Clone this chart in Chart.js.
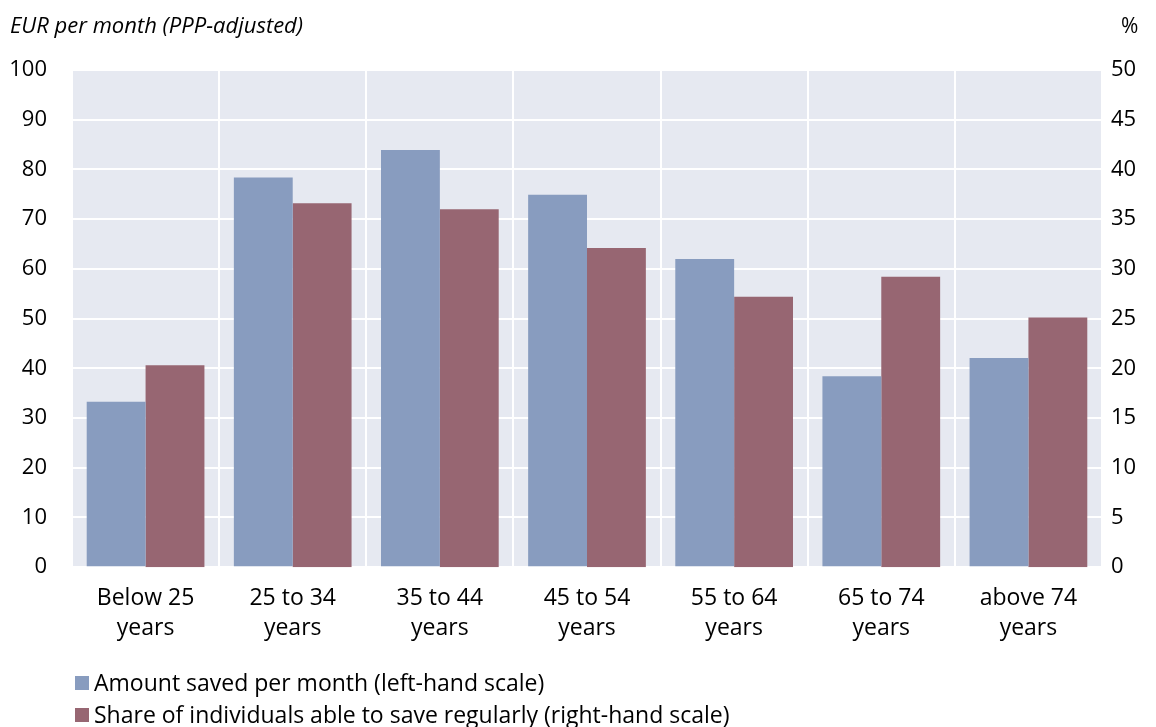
<!DOCTYPE html>
<html>
<head>
<meta charset="utf-8">
<script src="https://cdn.jsdelivr.net/npm/chart.js@4/dist/chart.umd.min.js"></script>
<style>
  html, body { margin: 0; padding: 0; background: #ffffff; }
  #wrap { width: 1156px; height: 727px; position: relative; }
</style>
</head>
<body>
<div id="wrap"><canvas id="c" width="1156" height="727"></canvas></div>
<script>
// Age groups (two-line labels)
const categories = [
  ['Below 25', 'years'],
  ['25 to 34', 'years'],
  ['35 to 44', 'years'],
  ['45 to 54', 'years'],
  ['55 to 64', 'years'],
  ['65 to 74', 'years'],
  ['above 74', 'years']
];

// EUR per month, PPP-adjusted (left-hand scale)
const amountSaved = [33.3, 78.4, 83.9, 74.9, 62.0, 38.4, 42.1];

// Percentage of individuals (right-hand scale)
const shareSaving = [20.3, 36.6, 36.0, 32.1, 27.2, 29.2, 25.1];

const seriesLabels = [
  'Amount saved per month (left-hand scale)',
  'Share of individuals able to save regularly (right-hand scale)'
];

const leftUnit = 'EUR per month (PPP-adjusted)';
const rightUnit = '%';

const FONT = '"Open Sans", Lato, sans-serif';
const BLUE = '#889cbf';
const RED = '#976672';
const PLOT_BG = '#e6e9f1';

// Fills the plot area behind the grid
const plotBackground = {
  id: 'plotBackground',
  beforeDraw(chart) {
    const { ctx, chartArea: a } = chart;
    ctx.save();
    ctx.fillStyle = PLOT_BG;
    ctx.fillRect(a.left, a.top, a.right - a.left, a.bottom - a.top);
    ctx.restore();
  }
};

// Unit captions above both axes and the legend below the chart
const captionsAndLegend = {
  id: 'captionsAndLegend',
  afterDraw(chart) {
    const { ctx } = chart;
    ctx.save();
    ctx.fillStyle = '#000';
    ctx.textBaseline = 'alphabetic';
    ctx.font = 'italic 22px ' + FONT;
    ctx.textAlign = 'left';
    ctx.fillText(leftUnit, 10, 33);
    ctx.font = '21px ' + FONT;
    ctx.fillText(rightUnit, 1121, 33);

    const rows = [691, 723];
    chart.data.datasets.forEach((ds, i) => {
      const y = rows[i];
      ctx.fillStyle = ds.backgroundColor;
      ctx.fillRect(75, y - 15, 14, 14);
      ctx.fillStyle = '#000';
      ctx.font = '23px ' + FONT;
      ctx.fillText(ds.label, 94, y);
    });
    ctx.restore();
  }
};

new Chart(document.getElementById('c'), {
  type: 'bar',
  data: {
    labels: categories,
    datasets: [
      {
        label: seriesLabels[0],
        data: amountSaved,
        backgroundColor: BLUE,
        yAxisID: 'y',
        barPercentage: 1.0,
        categoryPercentage: 0.8
      },
      {
        label: seriesLabels[1],
        data: shareSaving,
        backgroundColor: RED,
        yAxisID: 'y1',
        barPercentage: 1.0,
        categoryPercentage: 0.8
      }
    ]
  },
  options: {
    responsive: false,
    animation: false,
    devicePixelRatio: 1,
    layout: { padding: { top: 70, left: 0, right: 0, bottom: 68 } },
    plugins: {
      legend: { display: false },
      tooltip: { enabled: false }
    },
    scales: {
      x: {
        offset: true,
        border: { display: false },
        grid: { offset: true, color: '#ffffff', lineWidth: 2, drawTicks: false },
        ticks: { color: '#000', font: { family: FONT, size: 23, lineHeight: 1.3 }, padding: 16, maxRotation: 0 }
      },
      y: {
        position: 'left',
        min: 0, max: 100,
        border: { display: false },
        grid: { color: '#ffffff', lineWidth: 2, drawTicks: false },
        ticks: { stepSize: 10, color: '#000', font: { family: FONT, size: 22 }, padding: 25 },
        afterFit(scale) { scale.width = 72; }
      },
      y1: {
        position: 'right',
        min: 0, max: 50,
        border: { display: false },
        grid: { display: false, drawTicks: false },
        ticks: { stepSize: 5, color: '#000', font: { family: FONT, size: 22 }, padding: 9 },
        afterFit(scale) { scale.width = 54; }
      }
    }
  },
  plugins: [plotBackground, captionsAndLegend]
});
</script>
</body>
</html>
